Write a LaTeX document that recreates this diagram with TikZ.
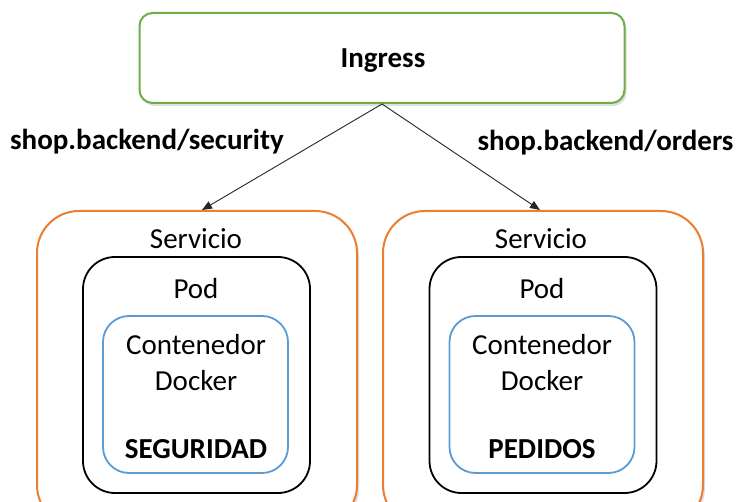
\documentclass[tikz,border=0pt]{standalone}
\usepackage{fontspec}
\setmainfont{Carlito}
\usetikzlibrary{arrows.meta,shadows}
\definecolor{igreen}{HTML}{70AD47}
\definecolor{sorange}{HTML}{ED7D31}
\definecolor{cblue}{HTML}{5B9BD5}
\begin{document}
\begin{tikzpicture}[x=1pt,y=-1pt,
  every node/.style={font=\fontsize{29}{35}\selectfont, inner sep=0pt},
  shadowed/.style={drop shadow={shadow xshift=2pt,shadow yshift=-3pt,opacity=0.25}},
  ingressbox/.style={draw=igreen,line width=2pt,rounded corners=13pt,fill=white,shadowed,
     minimum width=485pt,minimum height=90pt},
  svcbox/.style={draw=sorange,line width=2pt,rounded corners=42pt,fill=white,shadowed,
     minimum width=320pt,minimum height=316pt},
  podbox/.style={draw=black,line width=1.8pt,rounded corners=32pt,fill=white,
     minimum width=227pt,minimum height=236pt},
  ctrbox/.style={draw=cblue,line width=1.8pt,rounded corners=26pt,fill=white,
     minimum width=185pt,minimum height=157pt},
  lbl/.style={font=\fontsize{29}{35}\selectfont\bfseries},
  conn/.style={draw=black!85,line width=0.9pt,-{Triangle[length=10pt,width=8pt]}}
]
\useasboundingbox (0,0) rectangle (736,502);
\clip (0,0) rectangle (736,502);
\fill[white] (0,0) rectangle (736,502);

\node[ingressbox] (ingress) at (382,58) {};
\node[lbl] (ingresst) at (383,61) {Ingress};

\node[svcbox] (svcL) at (197,369) {};
\node[svcbox] (svcR) at (543,369) {};

\node[podbox] (podL) at (196.5,375) {};
\node[podbox] (podR) at (543,375) {};

\node[ctrbox] (ctrL) at (195.5,394.5) {};
\node[ctrbox] (ctrR) at (542,394.5) {};

\node (svctL) at (196,239) {Servicio};
\node (svctR) at (541,239) {Servicio};
\node (podtL) at (196,289) {Pod};
\node (podtR) at (542,289) {Pod};
\node (c1L) at (196,345) {Contenedor};
\node (c1R) at (542,345) {Contenedor};
\node (c2L) at (196,381) {Docker};
\node (c2R) at (542,381) {Docker};
\node[lbl] (nameL) at (196,449) {SEGURIDAD};
\node[lbl] (nameR) at (542,449) {PEDIDOS};

\node[lbl] (routeL) at (147,142) {shop.backend/security};
\node[lbl] (routeR) at (605.5,143) {shop.backend/orders};

\draw[conn] (ingress.south) -- ([xshift=5pt]svcL.north);
\draw[conn] (ingress.south) -- ([xshift=-3pt]svcR.north);
\end{tikzpicture}
\end{document}
